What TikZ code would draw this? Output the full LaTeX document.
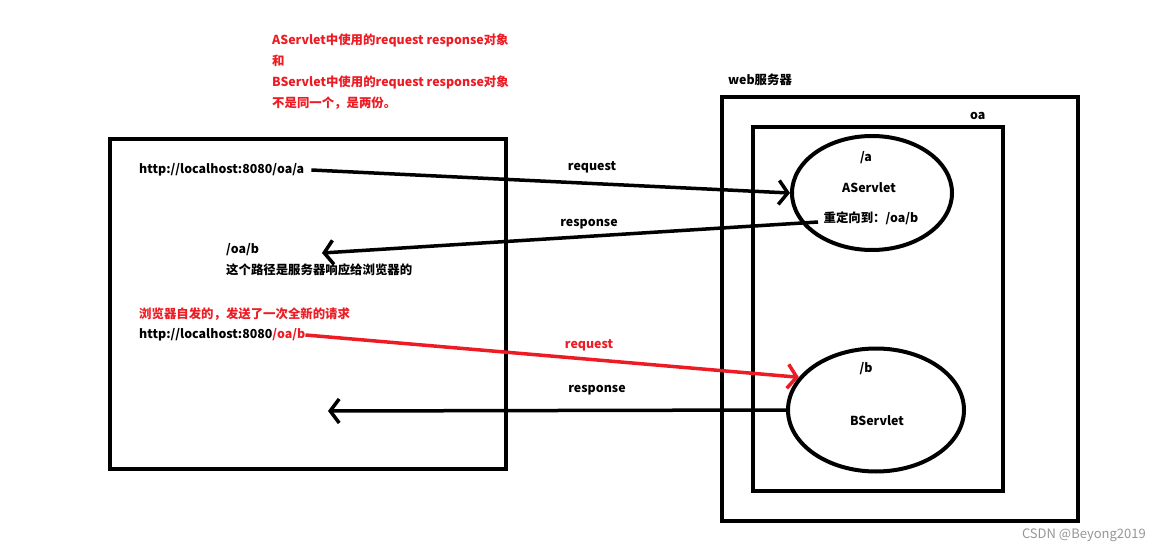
\documentclass[tikz,border=0pt]{standalone}
\usepackage{fontspec}
\setmainfont{Noto Sans CJK SC}
\usetikzlibrary{arrows.meta,shapes.geometric}
\definecolor{pred}{RGB}{237,28,36}
\definecolor{wmgray}{RGB}{150,150,150}
\begin{document}
\begin{tikzpicture}[x=1pt,y=-1pt,
  box/.style={draw,line width=4pt},
  lbl/.style={font=\bfseries\fontsize{12.4}{14}\selectfont, inner sep=0pt, anchor=west},
  clbl/.style={font=\bfseries\fontsize{12.4}{14}\selectfont, inner sep=0pt},
  conn/.style={line width=3.5pt, -{Straight Barb[length=9pt,width=24pt]}},
  srv/.style={draw, ellipse, line width=4pt, inner sep=0pt}]
\useasboundingbox (0,0) rectangle (1153,553);
% top red note
\node[lbl, text=pred] (n1) at (272,40) {AServlet中使用的request response对象};
\node[lbl, text=pred] (n2) at (272,61) {和};
\node[lbl, text=pred] (n3) at (272,82) {BServlet中使用的request response对象};
\node[lbl, text=pred] (n4) at (272,103) {不是同一个，是两份。};
% browser box
\draw[box] (110,139) rectangle (506,469);
\node[lbl] (urlA) at (139,170) {http://localhost:8080/oa/a};
\node[lbl] (pathb) at (226,250) {/oa/b};
\node[lbl] (expl) at (226,270) {这个路径是服务器响应给浏览器的};
\node[lbl, text=pred] (auto) at (139,314) {浏览器自发的，发送了一次全新的请求};
\node[lbl] (urlB) at (139,335) {http://localhost:8080\textcolor{pred}{/oa/b}};
% server
\node[lbl] (web) at (728,80) {web服务器};
\draw[box] (722,97) rectangle (1078,521);
\node[lbl] (oa) at (970,116) {oa};
\draw[box] (753,127) rectangle (1003,491);
\node[srv, minimum width=160pt, minimum height=114pt] (A) at (872,193) {};
\node[clbl] (aA) at (866,158) {/a};
\node[clbl] (nA) at (869,188) {AServlet};
\node[clbl] (redir) at (871,218) {重定向到：/oa/b};
\node[srv, minimum width=176pt, minimum height=123pt] (B) at (876,410) {};
\node[clbl] (bB) at (866,369) {/b};
\node[clbl] (nB) at (877,421) {BServlet};
% connectors
\coordinate (r1s) at (818,222);
\coordinate (r1e) at (322,253);
\coordinate (r2e) at (328,411);
\draw[conn] (urlA.east) ++(7,0) -- (A.west);
\draw[conn] (r1s) -- (r1e);
\draw[conn, pred] (urlB.east) -- (B.157);
\draw[conn] (B.west) -- (r2e);
\node[clbl] (req1) at (592,167) {request};
\node[clbl] (resp1) at (589,224) {response};
\node[clbl, text=pred] (req2) at (589,345) {request};
\node[clbl] (resp2) at (597,390) {response};
% watermark
\node[font=\fontsize{13}{15}\selectfont, text=wmgray, anchor=east, inner sep=0pt] (wm) at (1146,535) {CSDN @Beyong2019};
\end{tikzpicture}
\end{document}
